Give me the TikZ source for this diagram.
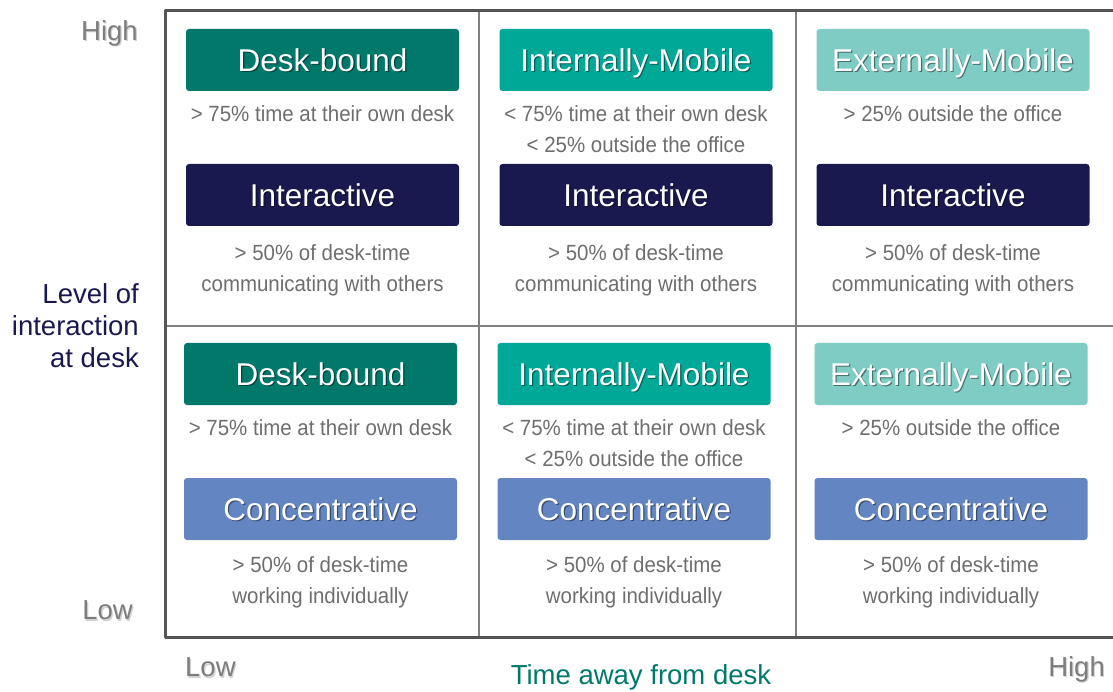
\documentclass[tikz,border=0pt]{standalone}
\usepackage{fontspec}
\setmainfont{Liberation Sans}
\newfontfamily\notefont[FakeStretch=0.93]{Liberation Sans}
\definecolor{deskc}{RGB}{0,121,107}
\definecolor{intc}{RGB}{0,168,152}
\definecolor{extc}{RGB}{126,204,196}
\definecolor{interc}{RGB}{25,25,80}
\definecolor{concc}{RGB}{99,134,195}
\definecolor{notec}{RGB}{110,110,110}
\definecolor{axisc}{RGB}{125,125,125}
\definecolor{framec}{RGB}{85,85,85}
% text with a small drop shadow
\newcommand\shd[2]{\rlap{\kern1.2pt\raisebox{-1.6pt}{\color{#1}#2}}#2}
\tikzset{
  catbox/.style={fill=#1, rounded corners=3pt, minimum width=273pt, minimum height=62pt,
    inner sep=0pt, text=white, text height=22.6pt, text depth=0pt, font=\fontsize{31.5}{36}\selectfont},
  note/.style={text=notec, align=center, inner sep=0pt, font=\notefont\fontsize{22}{31}\selectfont},
  axislab/.style={text=axisc, inner sep=0pt, font=\fontsize{27.5}{32}\selectfont}
}
\begin{document}
\begin{tikzpicture}[x=1pt,y=-1pt,line join=round,line cap=round]
	\useasboundingbox (0,0) rectangle (1113,692);
	% grid
	\draw[framec!75, line width=1.6pt] (479,11)--(479,637) (796,11)--(796,637) (165,326)--(1113,326);
	\draw[framec, line width=3pt] (1113,11)--(165,11)--(165,637)--(1113,637);
	% the six cells: mobility box, its note, work-style box, its note
	\foreach \r/\dy/\dx/\wy/\kind/\kc/\what in {1/0/0/270/Interactive/interc/communicating with others,
		2/314/-2/582/Concentrative/concc/working individually}{
		\foreach \n/\x/\c/\t/\s/\sy in {1/322.5/deskc/Desk-bound/{> 75\% time at their own desk}/114,
			2/636/intc/Internally-Mobile/{< 75\% time at their own desk\\< 25\% outside the office}/129.5,
			3/953/extc/Externally-Mobile/{> 25\% outside the office}/114}{
			\node[catbox=\c] (mob\r\n) at (\x+\dx,60+\dy) {\shd{\c!55!black}{\t}};
			\node[note] (mnote\r\n) at (\x+\dx,\sy+\dy) {\s};
			\node[catbox=\kc] (work\r\n) at (\x+\dx,195+\dy) {\shd{\kc!55!black}{\kind}};
			\node[note] (wnote\r\n) at (\x+\dx,\wy) {> 50\% of desk-time\\\what};
		}
	}
	% axes
	\node[axislab, anchor=east] (yhigh) at (138,34) {\shd{black!18}{High}};
	\node[axislab, anchor=east] (ylow) at (133,611) {\shd{black!18}{Low}};
	\node[axislab, anchor=east, align=right, text=interc] (ylab) at (139,326) {Level of\\interaction\\at desk};
	\node[axislab, anchor=west] (xlow) at (185,668) {\shd{black!18}{Low}};
	\node[axislab, anchor=east] (xhigh) at (1105,670) {\shd{black!18}{High}};
	\node[axislab, text=deskc] (xlab) at (641,677) {Time away from desk};
\end{tikzpicture}
\end{document}
